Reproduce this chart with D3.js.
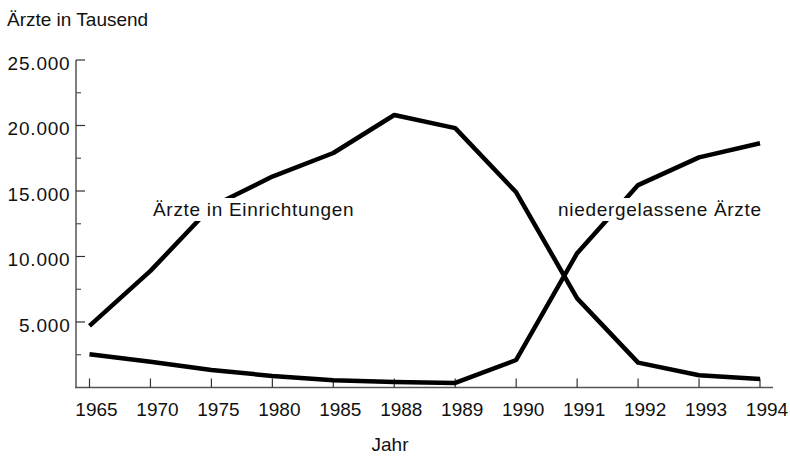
<!DOCTYPE html>
<html>
<head>
<meta charset="utf-8">
<script src="https://cdn.jsdelivr.net/npm/d3@7"></script>
<style>
body { margin: 0; background: #fff; }
text { font-family: "Liberation Sans", Arial, sans-serif; fill: #111; }
</style>
</head>
<body>
<div id="chart"></div>
<script>
"use strict";

var years = ["1965", "1970", "1975", "1980", "1985", "1988", "1989", "1990", "1991", "1992", "1993", "1994"];
var einrichtungen = [4700, 8900, 13800, 16100, 17900, 20800, 19800, 14900, 6800, 1900, 930, 650];
var niedergelassen = [2530, 1970, 1340, 880, 560, 420, 350, 2100, 10250, 15450, 17570, 18640];
var majorTicks = [5000, 10000, 15000, 20000, 25000];
var minorTicks = [2500, 7500, 12500, 17500, 22500];

var width = 790;
var height = 456;

var fmt = function(v) { return d3.format(",")(v).replace(/,/g, "."); };

var svg = d3.select("#chart").append("svg")
	.attr("width", width)
	.attr("height", height);

var x = d3.scalePoint()
	.domain(years)
	.range([89.5, 760]);

var y = d3.scaleLinear()
	.domain([0, 25000])
	.range([387.5, 60]);

// axes
svg.append("line")
	.attr("x1", 76).attr("x2", 76)
	.attr("y1", y(25000)).attr("y2", y(0))
	.attr("stroke", "#555").attr("stroke-width", 1.5);

svg.append("line")
	.attr("x1", 75).attr("x2", 773)
	.attr("y1", y(0)).attr("y2", y(0))
	.attr("stroke", "#555").attr("stroke-width", 1.5);

svg.selectAll("line.major")
	.data(majorTicks)
	.enter().append("line")
	.attr("class", "major")
	.attr("x1", 76).attr("x2", 85)
	.attr("y1", function(d) { return y(d); })
	.attr("y2", function(d) { return y(d); })
	.attr("stroke", "#333").attr("stroke-width", 1.2);

svg.selectAll("line.minor")
	.data(minorTicks)
	.enter().append("line")
	.attr("class", "minor")
	.attr("x1", 76).attr("x2", 81)
	.attr("y1", function(d) { return y(d); })
	.attr("y2", function(d) { return y(d); })
	.attr("stroke", "#555").attr("stroke-width", 1.2);

svg.selectAll("text.ylab")
	.data(majorTicks)
	.enter().append("text")
	.attr("class", "ylab")
	.attr("x", 70.5)
	.attr("y", function(d) { return y(d) + 9.5; })
	.attr("text-anchor", "end")
	.attr("font-size", "19px")
	.attr("letter-spacing", "0.8px")
	.text(fmt);

svg.selectAll("line.xtick")
	.data(years)
	.enter().append("line")
	.attr("class", "xtick")
	.attr("x1", function(d) { return x(d); })
	.attr("x2", function(d) { return x(d); })
	.attr("y1", y(0)).attr("y2", y(0) - 9)
	.attr("stroke", "#333").attr("stroke-width", 1.2);

// year labels sit a little right of their ticks in the original
svg.selectAll("text.xlab")
	.data(years)
	.enter().append("text")
	.attr("class", "xlab")
	.attr("x", function(d) { return x(d) + 7; })
	.attr("y", 416)
	.attr("text-anchor", "middle")
	.attr("font-size", "19px")
	.text(function(d) { return d; });

// lines
var line = d3.line()
	.x(function(d, i) { return x(years[i]); })
	.y(function(d) { return y(d); });

[einrichtungen, niedergelassen].forEach(function(s) {
	svg.append("path")
		.datum(s)
		.attr("fill", "none")
		.attr("stroke", "#000")
		.attr("stroke-width", 4.5)
		.attr("stroke-linejoin", "round")
		.attr("d", line);
});

// series labels with white knock-out
function label(txt, lx, ly) {
	var g = svg.append("g");
	var bg = g.append("rect").attr("fill", "#fff");
	var t = g.append("text")
		.attr("x", lx).attr("y", ly)
		.attr("font-size", "19px")
		.attr("letter-spacing", "0.7px")
		.text(txt);
	var b = t.node().getBBox();
	bg.attr("x", b.x - 3).attr("y", b.y - 1)
		.attr("width", b.width + 6).attr("height", b.height + 2);
}
label("Ärzte in Einrichtungen", 153, 216);
label("niedergelassene Ärzte", 558, 216);

svg.append("text")
	.attr("x", 7).attr("y", 26)
	.attr("font-size", "19px")
	.text("Ärzte in Tausend");

svg.append("text")
	.attr("x", 390).attr("y", 451)
	.attr("text-anchor", "middle")
	.attr("font-size", "19px")
	.text("Jahr");
</script>
</body>
</html>
